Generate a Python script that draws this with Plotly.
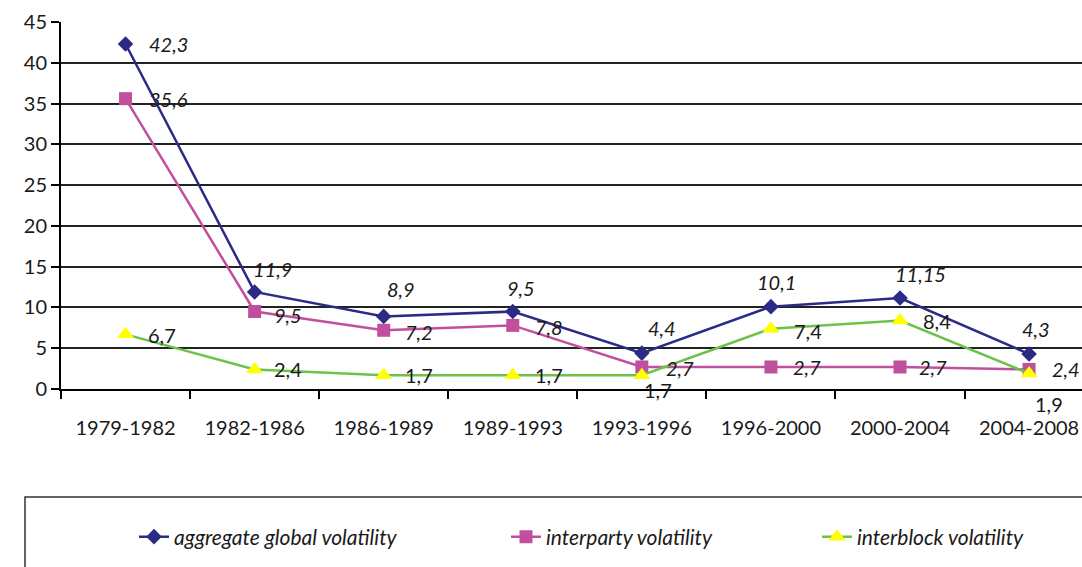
import plotly.graph_objects as go

categories = ["1979-1982", "1982-1986", "1986-1989", "1989-1993",
              "1993-1996", "1996-2000", "2000-2004", "2004-2008"]
aggregate = [42.3, 11.9, 8.9, 9.5, 4.4, 10.1, 11.15, 4.3]
interparty = [35.6, 9.5, 7.2, 7.8, 2.7, 2.7, 2.7, 2.4]
interblock = [6.7, 2.4, 1.7, 1.7, 1.7, 7.4, 8.4, 1.9]
y_ticks = [0, 5, 10, 15, 20, 25, 30, 35, 40, 45]

# label offsets in pixels (style only)
agg_off = [(43, 0), (18, 23), (17, 27), (8, 24), (20, 25), (6, 25), (20, 24), (7, 25)]
ip_off = [(43, 0), (33, -3), (35, -2), (36, -2), (38, -1), (36, 0), (33, 0), (37, 0)]
ib_off = [(36, -1), (33, 0), (35, 0), (36, 0), (16, -15), (37, -2), (37, -1), (20, -30)]


def fmt(v):
    return ("%g" % v).replace(".", ",")


FONT = "Lato"
W, H = 1082, 567
PL, PT = 61, 22          # plot area top-left in px
PLOT_W, PLOT_H = 1021, 367


def px_x(p):
    return (p - PL) / PLOT_W


def px_y(p):
    return (PT + PLOT_H - p) / PLOT_H


fig = go.Figure()

series = [
    ("aggregate global volatility", aggregate, agg_off, "#2B2B86", "#2B2B86",
     "diamond", 12, "italic", "legend"),
    ("interparty volatility", interparty, ip_off, "#C0509E", "#C0509E",
     "square", 13, "italic", "legend2"),
    ("interblock volatility", interblock, ib_off, "#6CC24A", "#FFFF00",
     "triangle-up", 15, "normal", "legend3"),
]

for name, vals, offs, lc, mc, sym, msz, style, leg in series:
    fig.add_trace(go.Scatter(
        x=categories, y=vals, name=name, mode="lines+markers",
        line=dict(color=lc, width=2.5),
        marker=dict(symbol=sym, size=msz, color=mc),
        cliponaxis=False, legend=leg,
    ))
    for c, v, (dx, dy) in zip(categories, vals, offs):
        fig.add_annotation(
            x=c, y=v, text=fmt(v), showarrow=False,
            xshift=dx, yshift=dy, xanchor="center", yanchor="middle",
            font=dict(family=FONT, size=20, color="#1a1a1a", style=style),
        )

# legend frame
fig.add_shape(type="rect", xref="paper", yref="paper",
              x0=px_x(25), x1=px_x(1090), y0=px_y(580), y1=px_y(497),
              line=dict(color="#333333", width=1.5), fillcolor="rgba(0,0,0,0)")

legfont = dict(family=FONT, size=21, color="#1a1a1a", style="italic")
for key, xs in (("legend", 134), ("legend2", 506), ("legend3", 817)):
    fig.update_layout(**{key: dict(
        xref="container", yref="container",
        x=xs / W, y=1 - 537 / H, xanchor="left", yanchor="middle",
        orientation="h", font=legfont, bgcolor="rgba(0,0,0,0)")})

fig.update_layout(
    width=W, height=H,
    margin=dict(l=PL, r=0, t=PT, b=H - PT - PLOT_H),
    plot_bgcolor="white", paper_bgcolor="white",
    showlegend=True,
    font=dict(family=FONT, size=20, color="#1a1a1a"),
)
fig.update_xaxes(
    type="category", categoryorder="array", categoryarray=categories,
    range=[-0.5, 7.41], showgrid=False, automargin=False,
    showline=True, linecolor="#000000", linewidth=2,
    ticks="outside", tickson="boundaries", ticklen=8, tickcolor="#000000", tickwidth=2,
    ticklabelstandoff=20, tickfont=dict(family=FONT, size=20, color="#1a1a1a"),
)
fig.update_yaxes(
    range=[0, 45], tickvals=y_ticks, showgrid=True, gridcolor="#222222", gridwidth=1.5,
    showline=True, linecolor="#000000", linewidth=2, zeroline=False, automargin=False,
    ticks="outside", ticklen=8, tickcolor="#000000", tickwidth=2,
    tickfont=dict(family=FONT, size=20, color="#1a1a1a"),
)

fig.write_html("out.html", config={"displayModeBar": False},
               post_script="document.body.style.margin='0';document.body.style.overflow='hidden';")
